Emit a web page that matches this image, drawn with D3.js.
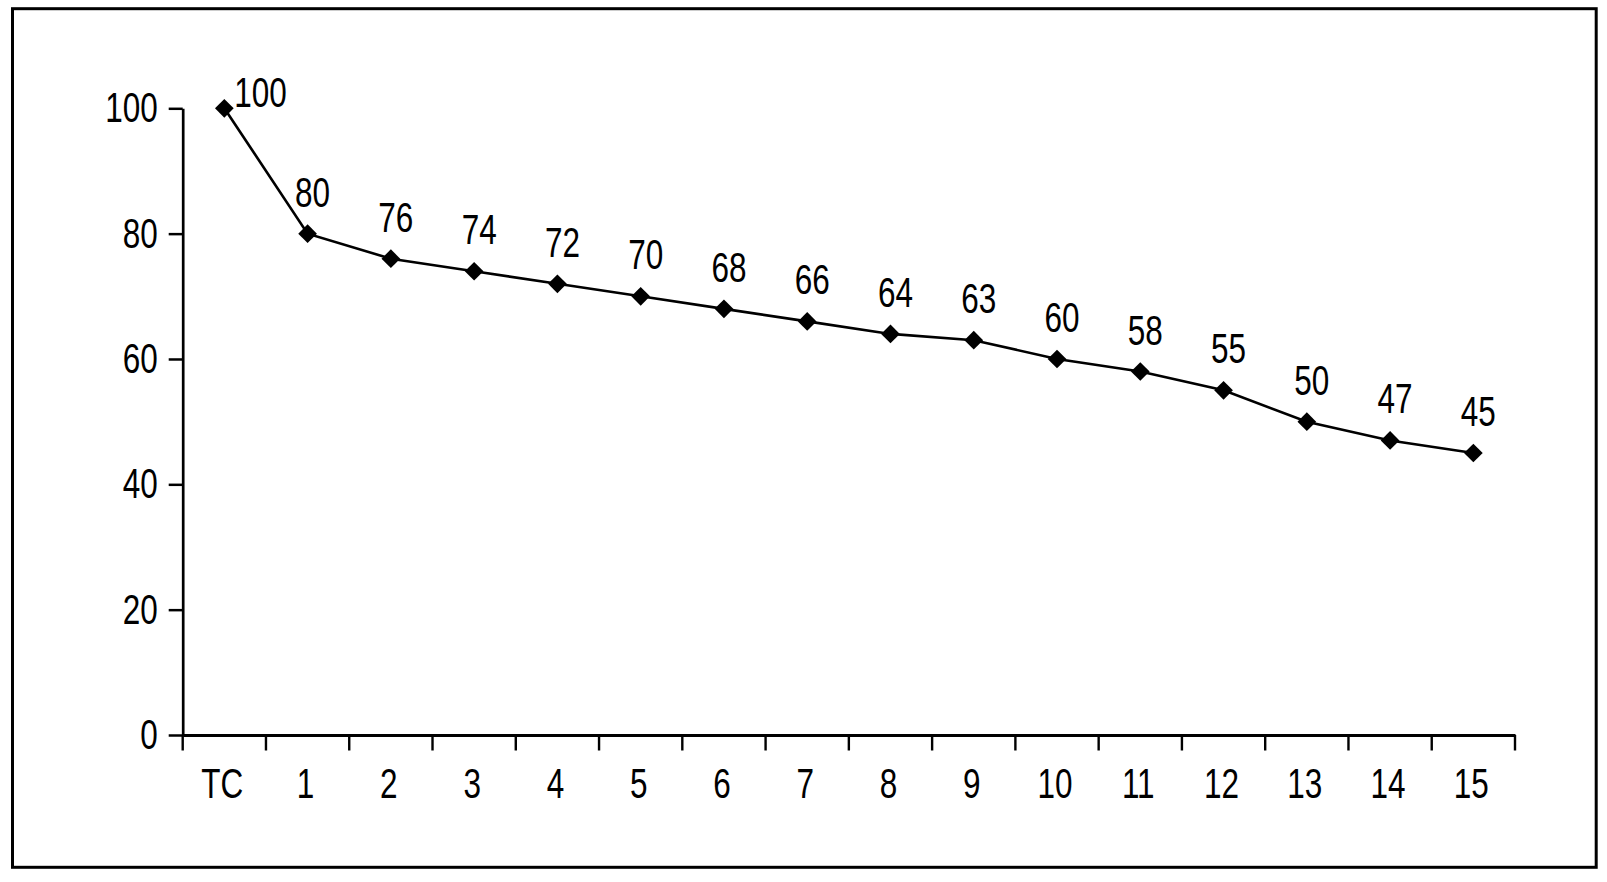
<!DOCTYPE html>
<html>
<head>
<meta charset="utf-8">
<script src="https://cdn.jsdelivr.net/npm/d3@7"></script>
<style>
  html, body { margin: 0; padding: 0; background: #fff; }
  svg { display: block; }
  text { font-family: "Liberation Sans", Arial, sans-serif; fill: #000; }
</style>
</head>
<body>
<svg id="chart" width="1607" height="882"></svg>
<script>
// ---- data ----
const categories = ["TC", "1", "2", "3", "4", "5", "6", "7", "8", "9", "10", "11", "12", "13", "14", "15"];
const values = [100, 80, 76, 74, 72, 70, 68, 66, 64, 63, 60, 58, 55, 50, 47, 45];
const yTicks = [0, 20, 40, 60, 80, 100];

(function () {
// ---- layout ----
const plotLeft = 182.7, plotRight = 1515, plotTop = 108.3, plotBottom = 735;
const fontSize = 42;
const narrowK = 0.75;   // horizontal squeeze to mimic a condensed face

const svg = d3.select("#chart");

// condense text horizontally around its own anchor point
function narrow(sel) {
  sel.each(function () {
    const t = d3.select(this);
    const tx = +t.attr("x") || 0, ty = +t.attr("y") || 0;
    t.attr("x", 0).attr("y", 0)
     .attr("transform", `translate(${tx},${ty}) scale(${narrowK},1)`);
  });
}

// outer frame
svg.append("rect")
  .attr("x", 12.5).attr("y", 8.7)
  .attr("width", 1596.2 - 12.5).attr("height", 867.3 - 8.7)
  .attr("fill", "none").attr("stroke", "#000").attr("stroke-width", 3);

const x = d3.scaleBand().domain(categories).range([plotLeft, plotRight]).padding(0);
const y = d3.scaleLinear().domain([0, 100]).range([plotBottom, plotTop]);

// y axis
const yAxis = svg.append("g")
  .attr("transform", `translate(${plotLeft},0)`)
  .call(d3.axisLeft(y).tickValues(yTicks).tickSize(14).tickSizeOuter(0).tickPadding(11));
yAxis.attr("font-family", null).attr("font-size", null);
yAxis.select(".domain").attr("stroke-width", 2.7);
yAxis.selectAll(".tick line").attr("stroke-width", 2.5);
yAxis.selectAll(".tick text").style("font-size", fontSize + "px").attr("fill", "#000").call(narrow);

// x axis (labels at band centres)
const xAxis = svg.append("g")
  .attr("transform", `translate(0,${plotBottom})`)
  .call(d3.axisBottom(x).tickSize(0).tickSizeOuter(0).tickPadding(33));
xAxis.attr("font-family", null).attr("font-size", null);
xAxis.select(".domain").attr("stroke-width", 3);
xAxis.selectAll(".tick text").style("font-size", fontSize + "px").attr("fill", "#000")
  .attr("x", -2).call(narrow);

// x ticks at band boundaries
const boundaries = categories.map(c => x(c)).concat([x.range()[1]]);
xAxis.selectAll("line.bound")
  .data(boundaries)
  .join("line")
  .attr("class", "bound")
  .attr("x1", d => d).attr("x2", d => d)
  .attr("y1", 0).attr("y2", 15.5)
  .attr("stroke", "#000").attr("stroke-width", 2.4);

// line
const cx = (d, i) => x(categories[i]) + x.bandwidth() / 2;
const line = d3.line().x((d, i) => cx(d, i)).y(d => y(d));
svg.append("path")
  .datum(values)
  .attr("d", line)
  .attr("fill", "none")
  .attr("stroke", "#000")
  .attr("stroke-width", 2.6);

// diamond markers
const sym = d3.symbol().type(d3.symbolSquare).size(175);
svg.selectAll("path.marker")
  .data(values)
  .join("path")
  .attr("class", "marker")
  .attr("d", sym)
  .attr("transform", (d, i) => `translate(${cx(d, i)},${y(d)}) rotate(45)`)
  .attr("fill", "#000");

// value labels
svg.selectAll("text.val")
  .data(values)
  .join("text")
  .attr("class", "val")
  .style("font-size", fontSize + "px")
  .attr("text-anchor", (d, i) => i === 0 ? "start" : "middle")
  .attr("x", (d, i) => i === 0 ? cx(d, i) + 10 : cx(d, i) + 5)
  .attr("y", (d, i) => i === 0 ? y(d) - 1 : y(d) - 27)
  .text(d => d)
  .call(narrow);
})();
</script>
</body>
</html>
